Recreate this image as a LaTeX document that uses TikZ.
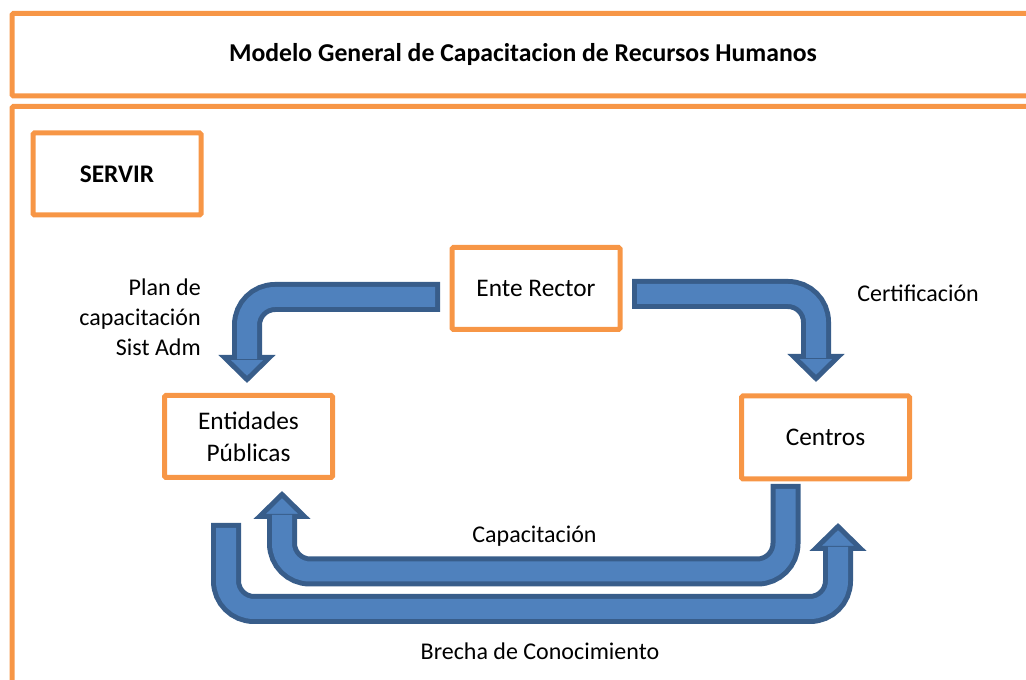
\documentclass[tikz,border=0pt]{standalone}
\usepackage{fontspec}
\setmainfont{Carlito}
\usetikzlibrary{arrows.meta,calc}
\definecolor{frameorange}{HTML}{F79646}
\definecolor{arrowblue}{HTML}{4F81BD}
\definecolor{arrowedge}{HTML}{385D8A}
\tikzset{
  frameline/.style={draw=frameorange, line width=3.75pt, rounded corners=1pt},
  actorbox/.style={draw=frameorange, line width=3.75pt, rounded corners=1pt,
    minimum width=126pt, minimum height=61.5pt, align=center,
    font=\fontsize{19}{24}\selectfont},
  flowlabel/.style={inner sep=0pt, font=\fontsize{18}{22.5}\selectfont},
  flowedge/.style={draw=arrowedge, line width=22.5pt, rounded corners=21pt,
    -{Triangle[length=21pt,width=42pt,fill=arrowblue,line width=3.75pt]}},
  flowfill/.style={draw=arrowblue, line width=15pt, rounded corners=21pt,
    shorten <=3.75pt, shorten >=18pt},
}
\begin{document}
\begin{tikzpicture}[x=0.75pt,y=-0.75pt]
\useasboundingbox (0,0) rectangle (1026,680);
%%% The two orange frames
\draw[frameline] (12,13.5) rectangle (1040,96);
\draw[frameline] (12,106.5) rectangle (1040,700);
\node[font=\bfseries\fontsize{19.3}{22}\selectfont] (title) at (523,55) {Modelo General de Capacitacion de Recursos Humanos};
%%% The boxes
\node[actorbox, font=\bfseries\fontsize{19}{24}\selectfont] (servir) at (117,174) {SERVIR};
\node[actorbox] (rector) at (536,288.5) {Ente Rector};
\node[actorbox] (entidades) at (248.5,436.5) {Entidades\\Públicas};
\node[actorbox, minimum height=62.25pt] (centros) at (825.5,437.5) {Centros};
%%% End points of the bent arrows
\coordinate (a0) at ($(rector.west)+(-9.5,8.5)$);
\coordinate (a1) at ($(entidades.north)+(-1.5,-10)$);
\coordinate (b0) at ($(rector.east)+(9.5,5.5)$);
\coordinate (b1) at ($(centros.north)+(-9.5,-11.5)$);
\coordinate (c0) at ($(centros.south)+(-40,2.5)$);
\coordinate (c1) at ($(entidades.south)+(33.5,11)$);
\coordinate (d0) at ($(entidades.south)+(-22.5,43)$);
\coordinate (d1) at ($(centros.south)+(12.5,41.5)$);
%%% Rector to Entidades and to Centros
\draw[flowedge] (a0) -| (a1);
\draw[flowfill] (a0) -| (a1);
\draw[flowedge] (b0) -| (b1);
\draw[flowfill] (b0) -| (b1);
%%% Centros back to Entidades, Entidades back to Centros
\draw[flowedge] (c0) -- ++(0,87.5) -| (c1);
\draw[flowfill] (c0) -- ++(0,87.5) -| (c1);
\draw[flowedge] (d0) -- ++(0,86) -| (d1);
\draw[flowfill] (d0) -- ++(0,86) -| (d1);
%%% The labels of the arrows
\node[flowlabel, align=right, anchor=east] (plan) at (201,317) {Plan de\\capacitación\\Sist Adm};
\node[flowlabel, anchor=base west] (cert) at (857,302) {Certificación};
\node[flowlabel, anchor=base] (capac) at (534.5,543) {Capacitación};
\node[flowlabel, anchor=base] (brecha) at (540,660) {Brecha de Conocimiento};
\end{tikzpicture}
\end{document}
